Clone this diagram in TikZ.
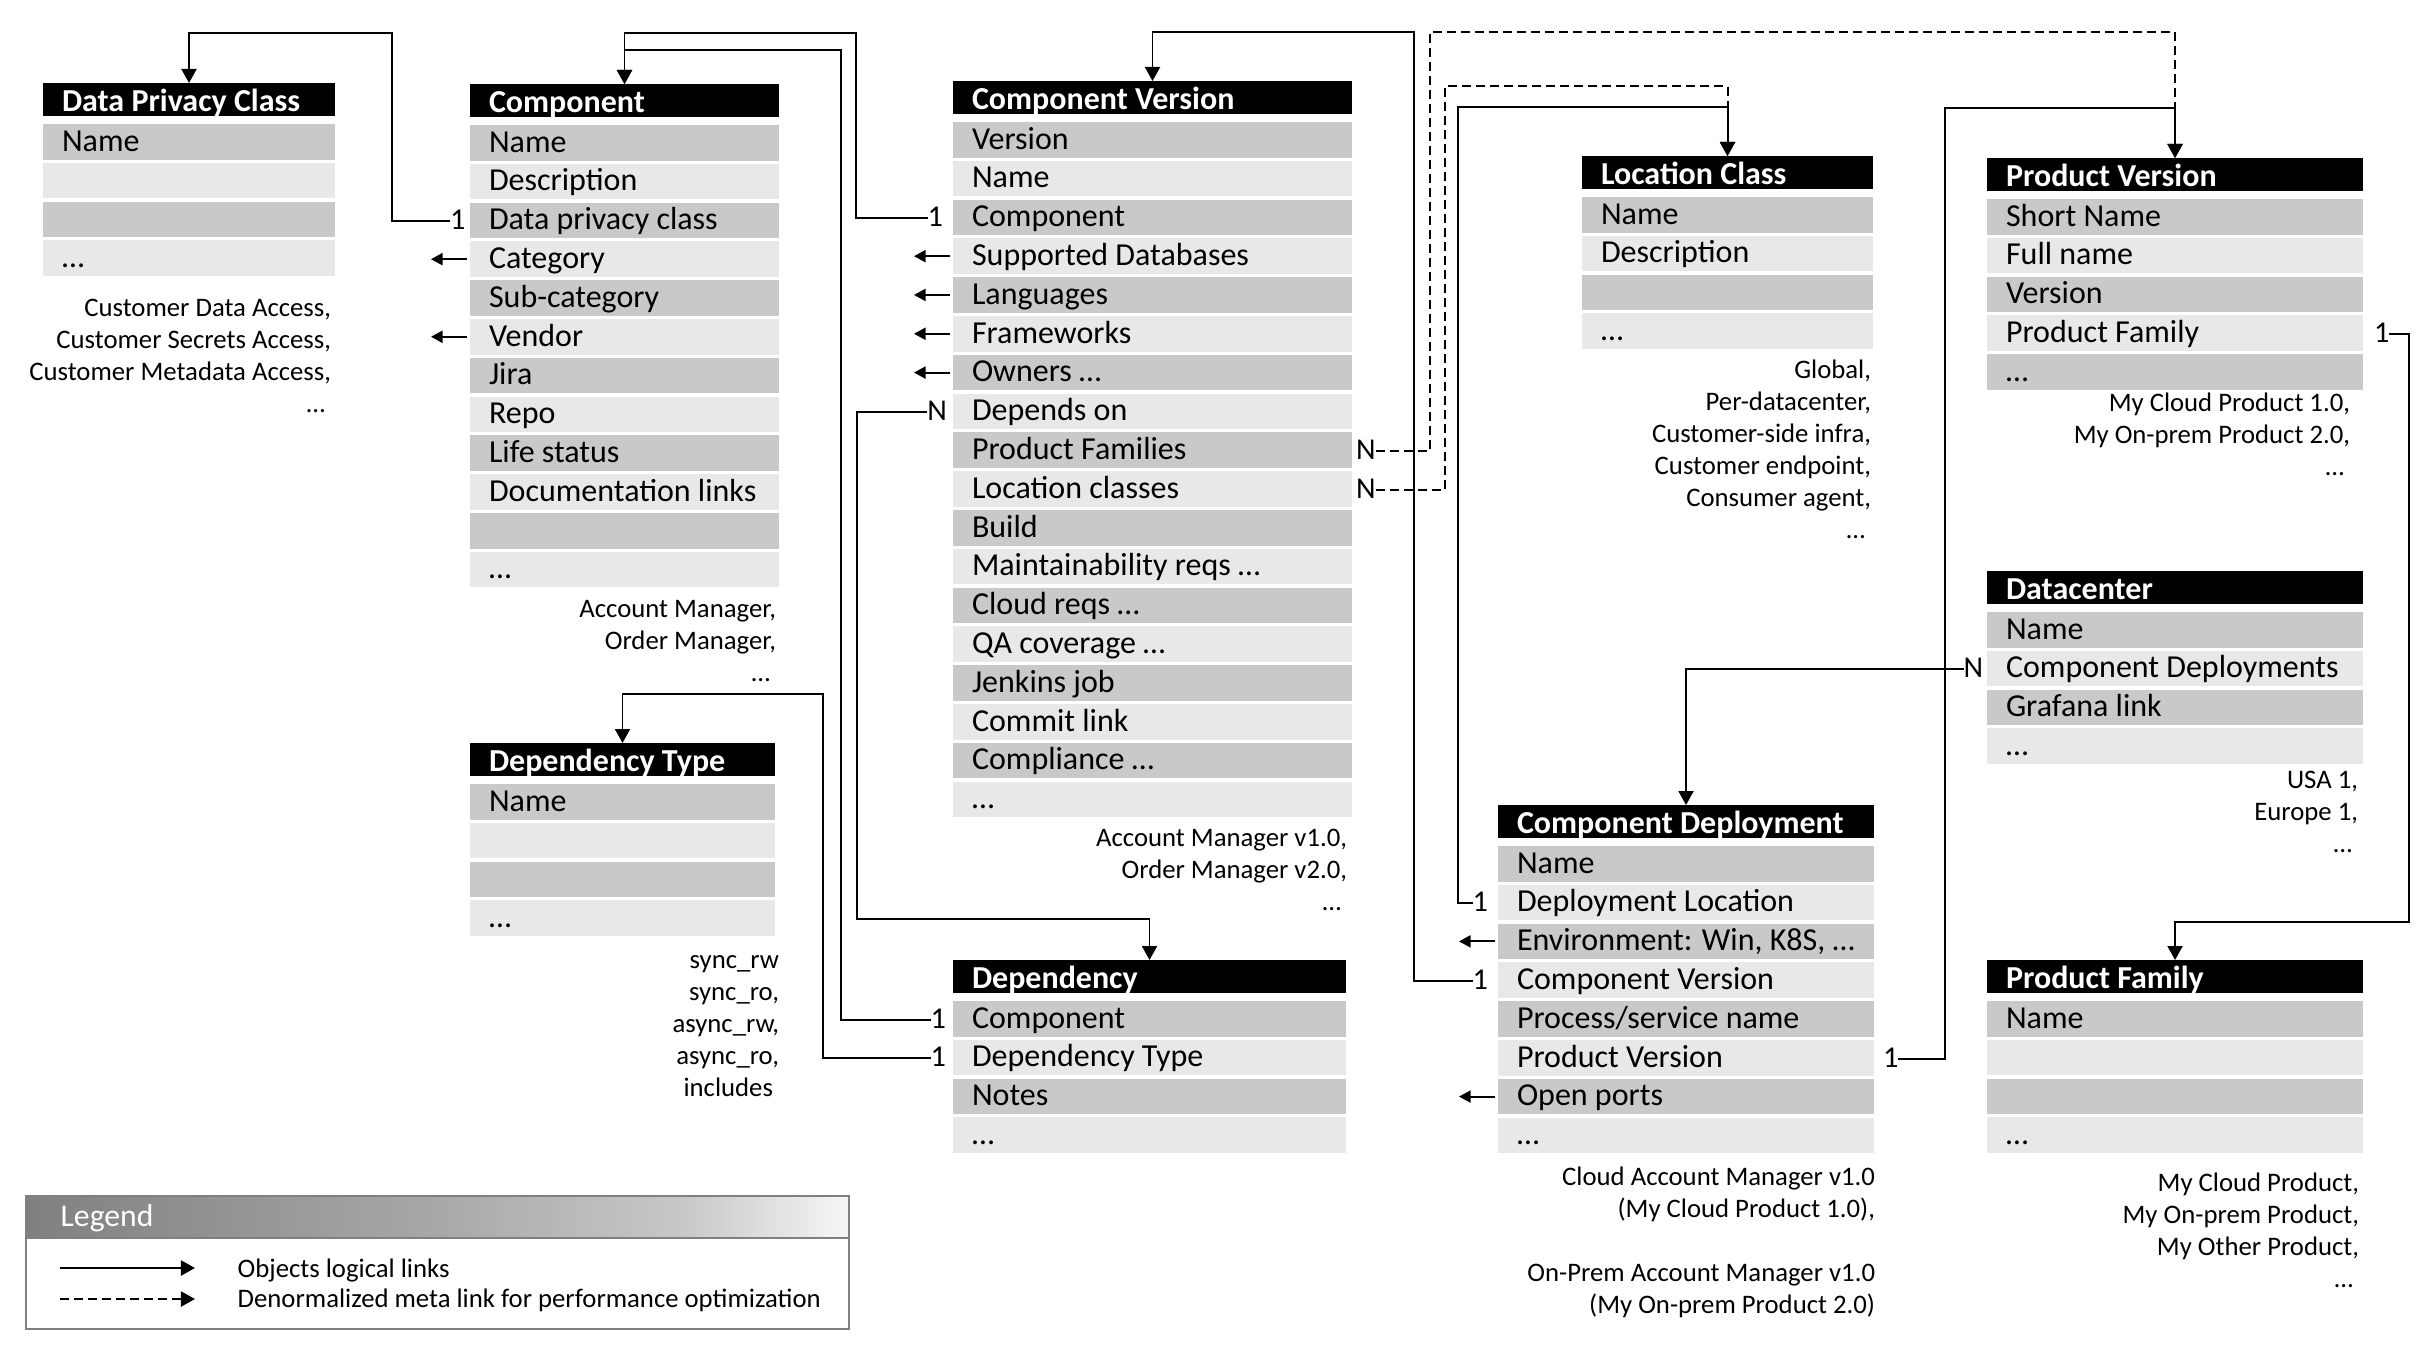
\documentclass[tikz,border=0pt]{standalone}
\usepackage{fontspec}
\setmainfont{Carlito}
\usetikzlibrary{arrows.meta}

\definecolor{rowdark}{RGB}{201,201,201}
\definecolor{rowlight}{RGB}{232,232,232}
\definecolor{framegray}{RGB}{128,128,128}
\definecolor{lgA}{RGB}{128,128,128}
\definecolor{lgB}{RGB}{168,168,168}
\definecolor{lgC}{RGB}{200,200,200}
\definecolor{lgD}{RGB}{246,246,246}
\pgfdeclarehorizontalshading{legendshade}{100bp}{color(0bp)=(lgA); color(25bp)=(lgA); color(50bp)=(lgB); color(65bp)=(lgC); color(75bp)=(lgD); color(100bp)=(lgD)}

\newcommand\rowfont{\fontsize{9.1}{11}\selectfont}
\newcommand\notefont{\fontsize{7.6}{9.1}\selectfont}
\newcommand\cardfont{\fontsize{8.6}{10}\selectfont}

\tikzset{
  hdr/.style={anchor=north west, inner sep=0pt, outer sep=0pt, fill=black, text=white,
              font=\rowfont\bfseries, text height=0.28cm, text depth=0.05cm},
  rowbox/.style={anchor=north west, inner sep=0pt, outer sep=0pt, font=\rowfont,
              text height=0.27cm, text depth=0.085cm},
  card/.style={inner sep=0pt, outer sep=0pt, font=\cardfont},
  note/.style={inner sep=0pt, outer sep=0pt, font=\notefont, anchor=base east},
  link/.style={draw, line width=0.55pt, -{Triangle[length=0.14cm,width=0.15cm]}},
  dlink/.style={link, dash pattern=on 0.09cm off 0.05cm},
  sidearrow/.style={draw, line width=0.55pt, -{Triangle[length=0.115cm,width=0.12cm]}},
}

% entity table: name, left x, right x, header top y, title, list of fields
\newcommand\entity[6]{%
  \pgfmathsetmacro\entw{(#3-#2)*0.01}%
  \node[hdr] (#1-h) at (#2,#4) {\makebox[\entw cm][l]{\hspace{0.19cm}#5}};%
  \foreach \rowtext [count=\i] in {#6} {%
    \pgfmathsetmacro\rowy{#4+41+(\i-1)*38.8}%
    \ifodd\i\relax\def\rowcol{rowdark}\else\def\rowcol{rowlight}\fi
    \node[rowbox, fill=\rowcol] (#1-\i) at (#2,\rowy) {\makebox[\entw cm][l]{\hspace{0.19cm}\rowtext}};%
  }%
}

\begin{document}
\begin{tikzpicture}[x=0.01cm, y=-0.01cm]
\useasboundingbox[fill=white] (0,0) rectangle (2434,1354);

% ---- tables ----
\entity{dpc}{43}{335}{83}{Data Privacy Class}{Name,{},{},…}
\entity{cmp}{470}{779}{84}{Component}{Name,Description,Data privacy class,Category,Sub-category,Vendor,Jira,Repo,Life status,Documentation links,{},…}
\entity{cv}{953}{1352}{81}{Component Version}{Version,Name,Component,Supported Databases,Languages,Frameworks,Owners …,Depends on,Product Families,Location classes,Build,Maintainability reqs …,Cloud reqs …,QA coverage …,Jenkins job,Commit link,Compliance …,…}
\entity{dt}{470}{775}{743}{Dependency Type}{Name,{},{},…}
\entity{dep}{953}{1346}{960}{Dependency}{Component,Dependency Type,Notes,…}
\entity{lc}{1582}{1873}{156}{Location Class}{Name,Description,{},…}
\entity{pv}{1987}{2363}{158}{Product Version}{Short Name,Full name,Version,Product Family,…}
\entity{dc}{1987}{2363}{571}{Datacenter}{Name,Component Deployments,Grafana link,…}
\entity{cd}{1498}{1874}{805}{Component Deployment}{Name,Deployment Location,{Environment: Win, K8S, …},Component Version,Process/service name,Product Version,Open ports,…}
\entity{pf}{1987}{2363}{960}{Product Family}{Name,{},{},…}

% ---- example values ----
\node[note] (dpc-n) at (331,316) {\begin{tabular}[t]{@{}r@{}}Customer Data Access,\\Customer Secrets Access,\\Customer Metadata Access,\\…\kern0.06cm\end{tabular}};
\node[note] (cmp-n) at (776,617) {\begin{tabular}[t]{@{}r@{}}Account Manager,\\Order Manager,\\…\kern0.06cm\end{tabular}};
\node[note] (cv-n) at (1347,846) {\begin{tabular}[t]{@{}r@{}}Account Manager v1.0,\\Order Manager v2.0,\\…\kern0.06cm\end{tabular}};
\node[note] (dt-n) at (779,968) {\begin{tabular}[t]{@{}r@{}}sync\_rw\\sync\_ro,\\async\_rw,\\async\_ro,\\includes\kern0.06cm\end{tabular}};
\node[note] (lc-n) at (1871,378) {\begin{tabular}[t]{@{}r@{}}Global,\\Per-datacenter,\\Customer-side infra,\\Customer endpoint,\\Consumer agent,\\…\kern0.06cm\end{tabular}};
\node[note] (pv-n) at (2350,411) {\begin{tabular}[t]{@{}r@{}}My Cloud Product 1.0,\\My On-prem Product 2.0,\\…\kern0.06cm\end{tabular}};
\node[note] (dc-n) at (2358,788) {\begin{tabular}[t]{@{}r@{}}USA 1,\\Europe 1,\\…\kern0.06cm\end{tabular}};
\node[note] (cd-n) at (1875,1185) {\begin{tabular}[t]{@{}r@{}}Cloud Account Manager v1.0\\(My Cloud Product 1.0),\\ \\On-Prem Account Manager v1.0\\(My On-prem Product 2.0)\end{tabular}};
\node[note] (pf-n) at (2359,1191) {\begin{tabular}[t]{@{}r@{}}My Cloud Product,\\My On-prem Product,\\My Other Product,\\…\kern0.06cm\end{tabular}};

% ---- cardinality marks ----
\node[card, anchor=base east] (cmp-l3) at ([xshift=-0.045cm]cmp-3.base west) {1};
\node[card, anchor=base east] (cv-l3) at ([xshift=-0.10cm]cv-3.base west) {1};
\node[card, anchor=base east] (cv-l8) at ([xshift=-0.06cm]cv-8.base west) {N};
\node[card, anchor=base west] (cv-l9) at ([xshift=0.04cm]cv-9.base east) {N};
\node[card, anchor=base west] (cv-l10) at ([xshift=0.04cm]cv-10.base east) {N};
\node[card, anchor=base east] (dep-l1) at ([xshift=-0.07cm]dep-1.base west) {1};
\node[card, anchor=base east] (dep-l2) at ([xshift=-0.07cm]dep-2.base west) {1};
\node[card, anchor=base east] (cd-l2) at ([xshift=-0.10cm]cd-2.base west) {1};
\node[card, anchor=base east] (cd-l4) at ([xshift=-0.10cm]cd-4.base west) {1};
\node[card, anchor=base west] (cd-l6) at ([xshift=0.09cm]cd-6.base east) {1};
\node[card, anchor=base west] (pv-l4) at ([xshift=0.11cm]pv-4.base east) {1};
\node[card, anchor=base east] (dc-l2) at ([xshift=-0.04cm]dc-2.base west) {N};

% ---- logical links ----
\draw[link] (cmp-l3.mid west) -| (392,33) -| (dpc-h.north);
\draw[link] (cv-l3.mid west) -| (856,33) -| (cmp-h.north);
\draw[link] (dep-l1.mid west) -| (841,50) -| (cmp-h.north);
\draw[link] (dep-l2.mid west) -| (823,694) -| (dt-h.north);
\draw[link] (cv-l8.mid west) -| (857,919) -| (dep-h.north);
\draw[link] (cd-l4.mid west) -| (1414,32) -| (cv-h.north);
\draw[link] (cd-l2.mid west) -| (1458,107) -| (lc-h.north);
\draw[link] (cd-l6.mid east) -| (1945,108) -| (pv-h.north);
\draw[link] (pv-l4.mid east) -| (2409,922) -| (pf-h.north);
\draw[link] (dc-l2.mid west) -| (cd-h.north);

% ---- denormalized links ----
\draw[dlink] (cv-l9.mid east) -| (1430,32) -| (pv-h.north);
\draw[dlink] (cv-l10.mid east) -| (1445,86) -| (lc-h.north);

% ---- external value lists ----
\foreach \r in {cmp-4,cmp-6,cv-4,cv-5,cv-6,cv-7,cd-3,cd-7}
  \draw[sidearrow] ([xshift=-0.03cm]\r.west) -- ++(-36,0);

% ---- legend ----
\shade[shading=legendshade] (26,1196) rectangle (849,1238);
\draw[framegray, line width=0.6pt] (26,1196) rectangle (849,1329);
\draw[framegray, line width=0.6pt] (26,1238) -- (849,1238);
\node[anchor=base west, inner sep=0pt, text=white, font=\fontsize{9}{11}\selectfont] (legend-title) at (60,1226) {Legend};
\coordinate (lg-s0) at (60,1268);
\coordinate (lg-s1) at (195,1268);
\draw[link] (lg-s0) -- (lg-s1);
\coordinate (lg-d0) at (60,1299);
\coordinate (lg-d1) at (195,1299);
\draw[dlink] (lg-d0) -- (lg-d1);
\node[anchor=base west, inner sep=0pt, font=\notefont] (lg-t1) at (237,1277) {Objects logical links};
\node[anchor=base west, inner sep=0pt, font=\notefont] (lg-t2) at (237,1307) {Denormalized meta link for performance optimization};
\end{tikzpicture}
\end{document}
